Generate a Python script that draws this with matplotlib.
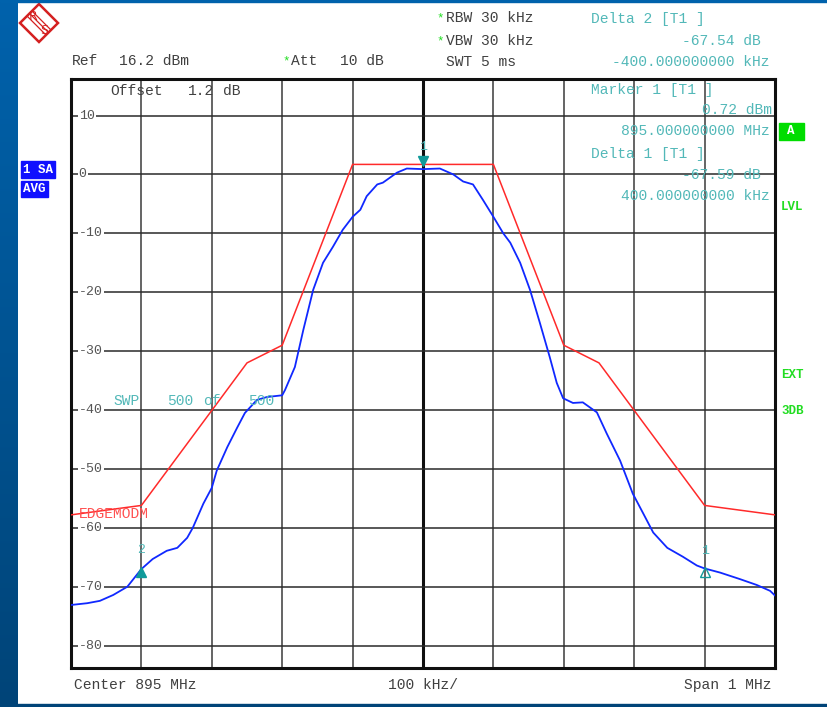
import numpy as np
import matplotlib
matplotlib.use("Agg")
import matplotlib.pyplot as plt
from matplotlib.patches import Rectangle, Polygon
from matplotlib.colors import LinearSegmentedColormap

# ---------------- data ----------------
trace_khz = [-500, -477, -459, -440, -420, -400, -384, -364, -349, -335,
             -327, -312, -300, -293, -278, -264, -253, -236, -222, -200,
             -196, -182, -170, -156, -142, -128, -114, -100, -89, -80,
             -65, -57, -37, -23, 0, 24, 43, 57, 71, 85,
             100, 114, 124, 138, 152, 166, 180, 190, 199, 213,
             227, 247, 261, 280, 298, 313, 327, 347, 369, 389,
             400, 422, 450, 474, 493, 500]
trace_dbm = [-73.1, -72.8, -72.4, -71.4, -70.0, -67.0, -65.3, -63.9, -63.4, -61.7,
             -60.0, -55.9, -53.2, -50.3, -46.3, -43.0, -40.5, -38.3, -37.8, -37.5,
             -36.6, -32.7, -26.4, -19.6, -15.0, -12.3, -9.4, -7.2, -6.0, -3.7,
             -1.7, -1.4, 0.3, 1.0, 0.9, 1.0, 0.0, -1.2, -1.7, -4.3,
             -7.2, -10.0, -11.6, -15.0, -19.6, -25.2, -31.0, -35.4, -38.0, -38.8,
             -38.7, -40.4, -44.0, -48.6, -54.2, -57.6, -60.8, -63.4, -64.9, -66.4,
             -66.9, -67.6, -68.7, -69.7, -70.7, -71.5]

limit_khz = [-500, -400, -250, -200, -100, 100, 200, 250, 400, 500]
limit_dbm = [-57.8, -56.2, -32.0, -29.0, 1.7, 1.7, -29.0, -32.0, -56.2, -57.8]

marker_khz = [0, -400, 400]
marker_dbm = [0.72, -66.82, -66.87]
marker_lbl = ["1", "2", "1"]

y_ticks = [10, 0, -10, -20, -30, -40, -50, -60, -70, -80]
x_grid = [-500, -400, -300, -200, -100, 0, 100, 200, 300, 400, 500]
ref_level = 16.2

# ---------------- figure ----------------
W, H = 827, 707
fig = plt.figure(figsize=(W / 100, H / 100), dpi=100)
fig.patch.set_facecolor("white")

MONO = "Liberation Mono"
GRAY = "#404040"
TEAL = "#52b8b8"
GREEN = "#22dd22"
LOGO = "#d42020"


def fxy(px, py):
    return px / W, 1 - py / H


def T(px, py, s, color=GRAY, ha="left", size=10.5, **kw):
    x, y = fxy(px, py)
    return fig.text(x, y, s, color=color, ha=ha, va="center",
                    family=MONO, fontsize=size, **kw)

# left blue strip (gradient)
sax = fig.add_axes([0, 0, 18 / W, 1])
grad = np.linspace(0, 1, 256).reshape(-1, 1)
cm = LinearSegmentedColormap.from_list("s", ["#0062ac", "#004478"])
sax.imshow(grad, aspect="auto", cmap=cm, extent=[0, 1, 0, 1], origin="upper")
sax.axis("off")
fig.patches.append(Rectangle((0, 1 - 2 / H), 1, 2 / H, transform=fig.transFigure,
                             color="#0062ac", zorder=5))
fig.patches.append(Rectangle((0, 0), 1, 3 / H, transform=fig.transFigure,
                             color="#004478", zorder=5))

# R&S logo
cx, cy, r = 39, 23, 19
pts = [fxy(cx, cy - r), fxy(cx + r, cy), fxy(cx, cy + r), fxy(cx - r, cy)]
fig.patches.append(Polygon(pts, closed=True, fill=False, edgecolor=LOGO,
                           linewidth=1.8, transform=fig.transFigure))
for d in (-2.5, 0, 2.5):
    a = fxy(cx - 9 + d, cy - 9 - d)
    b = fxy(cx + 9 + d, cy + 9 - d)
    fig.add_artist(plt.Line2D([a[0], b[0]], [a[1], b[1]], color=LOGO,
                              linewidth=0.9, transform=fig.transFigure))
fig.text(*fxy(33, 17), "R", color=LOGO, ha="center", va="center",
         family="DejaVu Sans", fontsize=9)
fig.text(*fxy(44, 30), "S", color=LOGO, ha="center", va="center",
         family="DejaVu Sans", fontsize=9)

# ---------------- main axes ----------------
L, R_, Tp, B = 71, 775, 79, 668
ax = fig.add_axes([L / W, 1 - B / H, (R_ - L) / W, (B - Tp) / H])
ax.set_xlim(-500, 500)
ax.set_ylim(ref_level - 100, ref_level)
ax.set_xticks([])
ax.set_yticks([])
for s in ax.spines.values():
    s.set_linewidth(2.2)
    s.set_color("#101010")

for xv in x_grid:
    lw = 2.2 if xv == 0 else 1.1
    col = "#101010" if xv == 0 else "#3a3a3a"
    ax.axvline(xv, color=col, linewidth=lw, zorder=1)
for yv in y_ticks:
    ax.axhline(yv, color="#2a2a2a", linewidth=1.1, zorder=1)
    ax.text(-489, yv, f"{yv}", color="#555555", family=MONO, fontsize=9.5,
            ha="left", va="center", zorder=3,
            bbox=dict(facecolor="white", edgecolor="none", pad=0.6))

ax.plot(limit_khz, limit_dbm, color="#ff2a2a", linewidth=1.1, zorder=4)
ax.plot(trace_khz, trace_dbm, color="#1028ff", linewidth=1.3, zorder=5)

# markers
ax.plot(marker_khz[0], marker_dbm[0] + 1.6, marker="v", color="#109a9a",
        markersize=7, zorder=6)
ax.text(marker_khz[0], marker_dbm[0] + 3.9, marker_lbl[0], color=TEAL,
        family=MONO, fontsize=9.5, ha="center", va="center", zorder=6)
ax.plot(marker_khz[1], marker_dbm[1] - 0.6, marker="^", color="#109a9a",
        markersize=7, zorder=6)
ax.text(marker_khz[1], marker_dbm[1] + 3.0, marker_lbl[1], color=TEAL,
        family=MONO, fontsize=9.5, ha="center", va="center", zorder=6)
ax.plot(marker_khz[2], marker_dbm[2] - 0.6, marker="^", markerfacecolor="none",
        markeredgecolor="#109a9a", markersize=7, zorder=6)
ax.text(marker_khz[2], marker_dbm[2] + 3.0, marker_lbl[2], color=TEAL,
        family=MONO, fontsize=9.5, ha="center", va="center", zorder=6)

# in-plot texts
T(113, 401, "SWP", color=TEAL)
T(167, 401, "500", color=TEAL)
T(203, 401, "of", color=TEAL)
T(248, 401, "500", color=TEAL)
T(79, 514, "EDGEMODM", color="#ff5050")
T(110, 91, "Offset", color=GRAY)
T(188, 91, "1.2", color=GRAY)
T(223, 91, "dB", color=GRAY)

# header texts
T(72, 61, "Ref", color=GRAY)
T(119, 61, "16.2 dBm", color=GRAY)
T(282, 61, "*", color=GREEN, size=9)
T(291, 61, "Att", color=GRAY)
T(340, 61, "10 dB", color=GRAY)
T(436, 18, "*", color=GREEN, size=9)
T(446, 18, "RBW 30 kHz", color=GRAY)
T(436, 41, "*", color=GREEN, size=9)
T(446, 41, "VBW 30 kHz", color=GRAY)
T(446, 62, "SWT 5 ms", color=GRAY)

T(591, 19, "Delta 2 [T1 ]", color=TEAL)
T(761, 41, "-67.54 dB", color=TEAL, ha="right")
T(770, 62, "-400.000000000 kHz", color=TEAL, ha="right")
T(591, 90, "Marker 1 [T1 ]", color=TEAL)
T(772, 110, "0.72 dBm", color=TEAL, ha="right")
T(770, 131, "895.000000000 MHz", color=TEAL, ha="right")
T(591, 154, "Delta 1 [T1 ]", color=TEAL)
T(761, 175, "-67.59 dB", color=TEAL, ha="right")
T(770, 196, "400.000000000 kHz", color=TEAL, ha="right")

# side boxes
fig.patches.append(Rectangle(fxy(21, 178), 34 / W, 17 / H, transform=fig.transFigure,
                             color="#1010ff"))
T(23, 170, "1 SA", color="white", size=9, fontweight="bold")
fig.patches.append(Rectangle(fxy(21, 197), 27 / W, 16 / H, transform=fig.transFigure,
                             color="#1010ff"))
T(23, 189, "AVG", color="white", size=9, fontweight="bold")
fig.patches.append(Rectangle(fxy(779, 140), 25 / W, 17 / H, transform=fig.transFigure,
                             color="#00dd00"))
T(791, 131, "A", color="white", size=9, ha="center", fontweight="bold")
T(781, 207, "LVL", color=GREEN, size=9, fontweight="bold")
T(781, 375, "EXT", color=GREEN, size=9, fontweight="bold")
T(781, 411, "3DB", color=GREEN, size=9, fontweight="bold")

# footer
T(74, 685, "Center 895 MHz", color=GRAY)
T(423, 685, "100 kHz/", color=GRAY, ha="center")
T(771, 685, "Span 1 MHz", color=GRAY, ha="right")

fig.savefig("out.png", dpi=100, facecolor="white")
